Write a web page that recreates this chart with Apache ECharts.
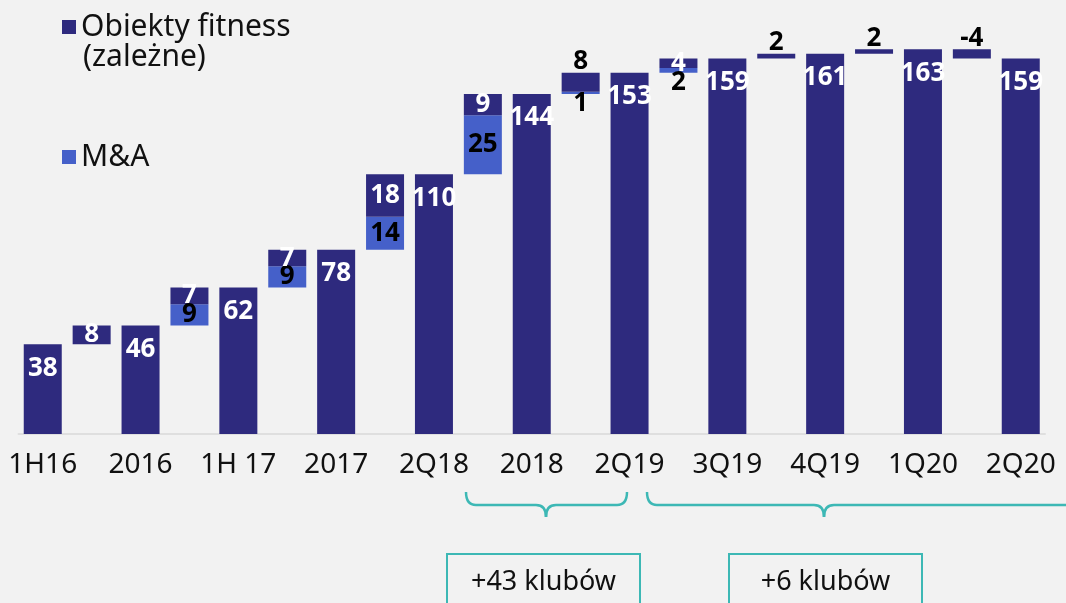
<!DOCTYPE html>
<html>
<head>
<meta charset="utf-8">
<script src="https://cdn.jsdelivr.net/npm/echarts@6/dist/echarts.min.js"></script>
<style>
html,body{margin:0;padding:0;background:#F2F2F2;}
#chart{width:1066px;height:603px;}
</style>
</head>
<body>
<div id="chart"></div>
<script>
// ---- data ----
const categories = ['1H16','','2016','','1H 17','','2017','','2Q18','','2018','','2Q19','','3Q19','','4Q19','','1Q20','','2Q20'];
const totals = [38,null,46,null,62,null,78,null,110,null,144,null,153,null,159,null,161,null,163,null,159];
const organicChange = [null,8,null,7,null,7,null,18,null,9,null,8,null,4,null,2,null,2,null,-4,null];
const maChange = [null,0,null,9,null,9,null,14,null,25,null,1,null,2,null,0,null,0,null,0,null];
const seriesNames = ['Obiekty fitness (zależne)', 'M&A'];
const annotations = ['+43 klubów', '+6 klubów'];

// ---- styling ----
const DARK = '#2E2A7E';
const LIGHT = '#4560C9';
const TEAL = '#3DB8B5';
const FONT = 'Noto Sans';
const organicLabelAbove = new Set([11, 15, 17, 19]);

const baseData = [], maData = [], orgData = [];
categories.forEach((c, i) => {
  if (totals[i] != null) {
    baseData.push('-');
    maData.push('-');
    orgData.push({
      value: totals[i],
      label: {show: true, position: 'insideTop', distance: 11, color: '#fff'}
    });
  } else {
    const prev = totals[i - 1];
    const ch = organicChange[i];
    const ma = maChange[i];
    baseData.push(prev + Math.min(0, ch));
    maData.push(ma > 0 ? {
      value: ma,
      label: ma < 5
        ? {show: true, position: 'bottom', distance: -3, color: '#000'}
        : {show: true, position: 'inside', color: '#000'}
    } : '-');
    orgData.push({
      value: Math.abs(ch),
      label: organicLabelAbove.has(i)
        ? {show: true, position: 'top', distance: -2, color: '#000', formatter: String(ch)}
        : {show: true, position: 'inside', color: '#fff', formatter: String(ch)}
    });
  }
});

const labelBase = {fontFamily: FONT, fontWeight: 'bold', fontSize: 26};

// brace built from line + quadratic curve pieces
function brace(x1, xm, x2, yTop, yLine, yTip, r) {
  const st = {stroke: TEAL, lineWidth: 2.5, fill: null};
  const parts = [];
  parts.push({type: 'bezierCurve', shape: {x1: x1, y1: yTop, x2: x1 + r, y2: yLine, cpx1: x1, cpy1: yLine}, style: st});
  parts.push({type: 'line', shape: {x1: x1 + r, y1: yLine, x2: xm - 10, y2: yLine}, style: st});
  parts.push({type: 'bezierCurve', shape: {x1: xm - 10, y1: yLine, x2: xm, y2: yTip, cpx1: xm, cpy1: yLine}, style: st});
  parts.push({type: 'bezierCurve', shape: {x1: xm, y1: yTip, x2: xm + 10, y2: yLine, cpx1: xm, cpy1: yLine}, style: st});
  if (x2 < 1066) {
    parts.push({type: 'line', shape: {x1: xm + 10, y1: yLine, x2: x2 - r, y2: yLine}, style: st});
    parts.push({type: 'bezierCurve', shape: {x1: x2 - r, y1: yLine, x2: x2, y2: yTop, cpx1: x2, cpy1: yLine}, style: st});
  } else {
    parts.push({type: 'line', shape: {x1: xm + 10, y1: yLine, x2: x2, y2: yLine}, style: st});
  }
  return parts;
}

const chart = echarts.init(document.getElementById('chart'), null, {renderer: 'canvas'});
chart.setOption({
  backgroundColor: '#F2F2F2',
  animation: false,
  grid: {left: 18.3, right: 20.8, top: 9, bottom: 169, containLabel: false},
  legend: [
    {data: [seriesNames[0]], left: 62, top: 12, padding: 0, icon: 'rect', itemWidth: 14, itemHeight: 14,
     selectedMode: false, formatter: () => 'Obiekty fitness',
     textStyle: {fontFamily: FONT, fontSize: 30, lineHeight: 30, color: '#111'}},
    {data: [seriesNames[1]], left: 62, top: 142, padding: 0, icon: 'rect', itemWidth: 14, itemHeight: 14,
     selectedMode: false,
     textStyle: {fontFamily: FONT, fontSize: 30, lineHeight: 30, color: '#111'}}
  ],
  xAxis: {
    type: 'category', data: categories,
    axisTick: {show: false},
    axisLine: {lineStyle: {color: '#D9D9D9', width: 1.5}},
    axisLabel: {interval: 0, fontFamily: FONT, fontSize: 28, color: '#111', margin: 17}
  },
  yAxis: {type: 'value', min: 0, max: 180, show: false, splitLine: {show: false}},
  series: [
    {name: 'base', type: 'bar', stack: 'w', data: baseData, barWidth: 38,
     itemStyle: {color: 'transparent'}, silent: true},
    {name: seriesNames[1], type: 'bar', stack: 'w', data: maData, barWidth: 38,
     itemStyle: {color: LIGHT}, label: Object.assign({show: false}, labelBase)},
    {name: seriesNames[0], type: 'bar', stack: 'w', data: orgData, barWidth: 38,
     itemStyle: {color: DARK}, label: Object.assign({show: true}, labelBase)}
  ],
  graphic: [
    {type: 'text', left: 83, top: 42, style: {text: '(zależne)', fontFamily: FONT, fontSize: 30, fill: '#111'}},
    ...brace(466, 546, 627, 492, 505, 517, 10),
    ...brace(647, 824, 1080, 492, 505, 517, 10),
    {type: 'rect', shape: {x: 447, y: 554, width: 193, height: 80}, style: {stroke: TEAL, lineWidth: 2, fill: null}},
    {type: 'rect', shape: {x: 729, y: 554, width: 193, height: 80}, style: {stroke: TEAL, lineWidth: 2, fill: null}},
    {type: 'text', x: 543.5, y: 582, style: {text: annotations[0], fontFamily: FONT, fontSize: 27, fill: '#111', align: 'center', verticalAlign: 'middle'}},
    {type: 'text', x: 825.5, y: 582, style: {text: annotations[1], fontFamily: FONT, fontSize: 27, fill: '#111', align: 'center', verticalAlign: 'middle'}}
  ]
});
</script>
</body>
</html>
